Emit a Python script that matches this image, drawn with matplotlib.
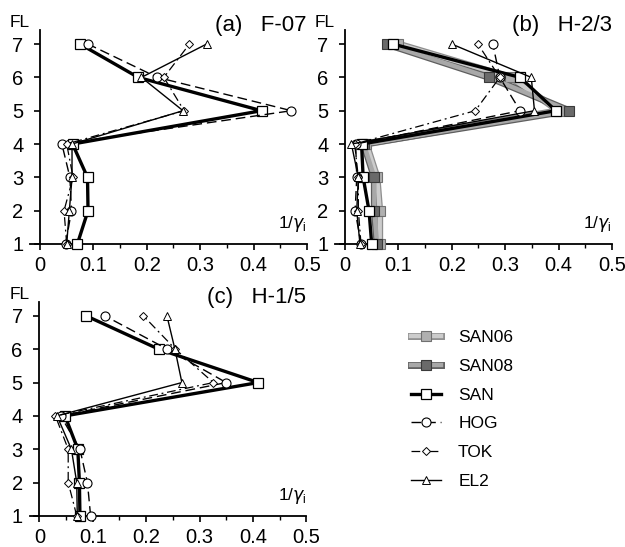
import numpy as np
import matplotlib
matplotlib.use("Agg")
import matplotlib.pyplot as plt
from matplotlib.legend_handler import HandlerTuple

plt.rcParams['font.family'] = ['Liberation Sans', 'DejaVu Sans']

FL = [1, 2, 3, 4, 5, 6, 7]

# (a) F-07
a_san = [0.070, 0.090, 0.089, 0.061, 0.415, 0.184, 0.075]
a_hog = [0.048, 0.059, 0.056, 0.041, 0.471, 0.220, 0.090]
a_tok = [0.050, 0.045, 0.062, 0.050, 0.270, 0.232, 0.280]
a_el2 = [0.050, 0.055, 0.060, 0.060, 0.268, 0.190, 0.312]

# (b) H-2/3
b_san06 = [0.065, 0.065, 0.060, 0.040, 0.400, 0.310, 0.100]
b_san08 = [0.060, 0.055, 0.055, 0.035, 0.420, 0.270, 0.078]
b_san = [0.050, 0.045, 0.034, 0.031, 0.395, 0.328, 0.090]
b_hog = [0.030, 0.019, 0.022, 0.020, 0.328, 0.290, 0.277]
b_tok = [0.030, 0.025, 0.025, 0.018, 0.244, 0.290, 0.249]
b_el2 = [0.028, 0.022, 0.025, 0.012, 0.355, 0.349, 0.200]

# (c) H-1/5
c_san = [0.076, 0.075, 0.072, 0.048, 0.410, 0.224, 0.088]
c_hog = [0.096, 0.090, 0.076, 0.040, 0.350, 0.240, 0.123]
c_tok = [0.070, 0.054, 0.054, 0.030, 0.326, 0.255, 0.195]
c_el2 = [0.071, 0.070, 0.060, 0.033, 0.267, 0.254, 0.239]

styles = {
    'SAN06': dict(color='#cccccc', lw=3.2, marker='s', ms=6.5, mfc='#b0b0b0', mec='#707070', mew=0.8),
    'SAN08': dict(color='#a8a8a8', lw=3.2, marker='s', ms=6.5, mfc='#6a6a6a', mec='#3a3a3a', mew=0.8),
    'SAN': dict(color='black', lw=2.4, marker='s', ms=6.5, mfc='white', mec='black', mew=0.9),
    'HOG': dict(color='black', lw=1.0, ls=(0, (7, 3.5)), marker='o', ms=6.5, mfc='white', mec='black', mew=0.8),
    'TOK': dict(color='black', lw=0.9, ls=(0, (7, 3, 1.5, 3)), marker='D', ms=4.5, mfc='white', mec='black', mew=0.7),
    'EL2': dict(color='black', lw=1.0, marker='^', ms=6, mfc='white', mec='black', mew=0.7),
}
# darker edge under the grey bands
edges = {'SAN06': '#8e8e8e', 'SAN08': '#5e5e5e'}


def setup(ax, title):
    ax.set_xlim(0, 0.5)
    ax.set_ylim(1, 7.42)
    for s in ['top', 'right']:
        ax.spines[s].set_visible(False)
    ax.spines['left'].set_linewidth(1.3)
    ax.spines['bottom'].set_linewidth(1.3)
    ax.spines['bottom'].set_bounds(-0.018, 0.5)
    ax.set_xticks(np.arange(0, 0.51, 0.1))
    ax.set_xticklabels(['0', '0.1', '0.2', '0.3', '0.4', '0.5'])
    ax.set_xticks(np.arange(0, 0.51, 0.05), minor=True)
    ax.set_yticks(FL)
    ax.tick_params(axis='both', labelsize=14.5, width=1.2, direction='out')
    ax.tick_params(axis='x', which='major', length=4, pad=5)
    ax.tick_params(axis='x', which='minor', length=3, width=1.0)
    ax.tick_params(axis='y', length=4, pad=8)
    ax.text(-0.056, 7.42, 'FL', fontsize=12.5, ha='left', va='bottom', clip_on=False)
    ax.text(0.5, 1.3, r'1/$\gamma_\mathregular{i}$', fontsize=12.5, ha='right', va='bottom')
    ax.text(0.5, 7.4, title, fontsize=16, ha='right', va='baseline')


fig = plt.figure(figsize=(6.25, 5.47), dpi=100)
ax_a = fig.add_axes([0.064, 0.554, 0.427, 0.391])
ax_b = fig.add_axes([0.552, 0.554, 0.427, 0.391])
ax_c = fig.add_axes([0.063, 0.057, 0.427, 0.391])

handles = {}
for ax, data in [(ax_a, [('SAN', a_san), ('HOG', a_hog), ('TOK', a_tok), ('EL2', a_el2)]),
                 (ax_b, [('SAN06', b_san06), ('SAN08', b_san08), ('SAN', b_san),
                         ('HOG', b_hog), ('TOK', b_tok), ('EL2', b_el2)]),
                 (ax_c, [('SAN', c_san), ('HOG', c_hog), ('TOK', c_tok), ('EL2', c_el2)])]:
    for name, vals in data:
        if name in edges:
            under, = ax.plot(vals, FL, color=edges[name], lw=5, clip_on=False, zorder=2.9)
            line, = ax.plot(vals, FL, clip_on=False, zorder=3, **styles[name])
            handles[name] = (under, line)
        else:
            line, = ax.plot(vals, FL, clip_on=False, zorder=3, **styles[name])
            handles[name] = line

setup(ax_a, '(a)   F-07')
setup(ax_b, '(b)   H-2/3')
setup(ax_c, '(c)   H-1/5')

names = ['SAN06', 'SAN08', 'SAN', 'HOG', 'TOK', 'EL2']
fig.legend([handles[n] for n in names], names, loc='upper left', bbox_to_anchor=(0.633, 0.425),
           frameon=False, fontsize=12.5, handlelength=1.7, handletextpad=1.0,
           labelspacing=0.78, handler_map={tuple: HandlerTuple(ndivide=1)})

fig.savefig('out.png', dpi=100)
